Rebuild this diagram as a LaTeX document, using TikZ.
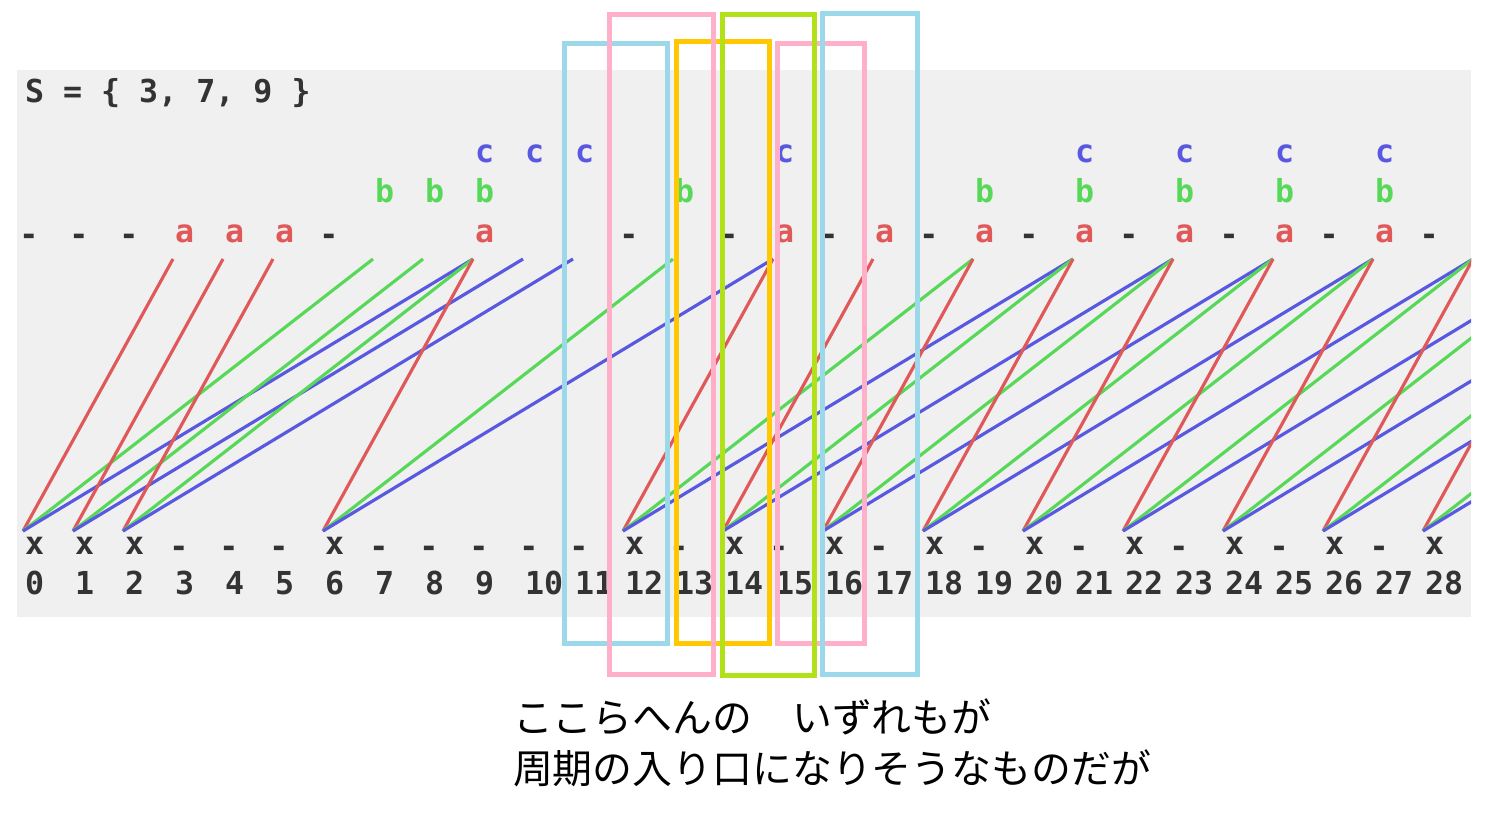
\documentclass[tikz,border=0pt]{standalone}
\usepackage{fontspec}
\newfontfamily\pixfont{DejaVu Sans Mono}
\newfontfamily\jpfont{Noto Sans CJK JP}
\definecolor{bggray}{HTML}{F0F0F0}
\definecolor{ink}{HTML}{333333}
\definecolor{reda}{HTML}{E05858}
\definecolor{greenb}{HTML}{58D858}
\definecolor{bluec}{HTML}{5858E0}
\definecolor{skyframe}{HTML}{9BD9EA}
\definecolor{pinkframe}{HTML}{FFAFC8}
\definecolor{goldframe}{HTML}{FFC800}
\definecolor{limeframe}{HTML}{B0E119}
\begin{document}
\begin{tikzpicture}[
        x=0.02cm, y=-0.02cm,
        every node/.style={inner sep=0pt, outer sep=0pt, text=ink, font=\pixfont\bfseries\fontsize{18}{18}\selectfont},
        numn/.style={anchor=base west},
        hitn/.style={anchor=base west},
        dashn/.style={anchor=center},
        an/.style={anchor=base west, text=reda},
        bn/.style={anchor=base west, text=greenb},
        cn/.style={anchor=base west, text=bluec},
        redl/.style={draw=reda, line width=1.8pt},
        greenl/.style={draw=greenb, line width=1.8pt},
        bluel/.style={draw=bluec, line width=1.8pt},
        skybox/.style={draw=skyframe, line width=2.8pt},
        pinkbox/.style={draw=pinkframe, line width=2.8pt},
        goldbox/.style={draw=goldframe, line width=2.8pt},
        limebox/.style={draw=limeframe, line width=2.8pt},
        jptext/.style={anchor=west, text=black, font=\jpfont\fontsize{22.7}{26}\selectfont},
    ]
    \useasboundingbox (0,0) rectangle (1493,819);
    \fill[bggray] (17,70) rectangle (1471,617);

    \node[anchor=base west] (title) at (25,102) {S = \{ 3, 7, 9 \}};

    \foreach \j in {0,...,37}
        \coordinate (top\j) at ({23+50*\j},259);

    \foreach \p in {0,1,2,6,12,14,16,18,20,22,24,26,28} {
        \coordinate (bot\p) at ({23+50*\p},531);
        \node[hitn] (x\p) at ({25+50*\p},554) {x};
        \node[dashn] (d\p) at ({29+50*\p},240) {-};
    }
    \foreach \q in {3,4,5,7,8,9,10,11,13,15,17,19,21,23,25,27}
        \node[dashn] (e\q) at ({29+50*\q},552) {-};

    \foreach \k in {3,4,5,9,15,17,19,21,23,25,27}
        \node[an] (a\k) at ({25+50*\k},242) {a};
    \foreach \k in {7,8,9,13,19,21,23,25,27}
        \node[bn] (b\k) at ({25+50*\k},202) {b};
    \foreach \k in {9,10,11,15,21,23,25,27}
        \node[cn] (c\k) at ({25+50*\k},162) {c};

    \foreach \n in {0,...,28}
        \node[numn] (n\n) at ({25+50*\n},594) {\n};

    \begin{scope}
        \clip (17,70) rectangle (1471,617);
        \foreach \p in {0,1,2,6,12,14,16,18,20,22,24,26,28} {
            \pgfmathtruncatemacro{\pa}{\p+3}
            \pgfmathtruncatemacro{\pb}{\p+7}
            \pgfmathtruncatemacro{\pc}{\p+9}
            \draw[redl] (bot\p) -- (top\pa);
            \draw[greenl] (bot\p) -- (top\pb);
            \draw[bluel] (bot\p) -- (top\pc);
        }
    \end{scope}

    \draw[skybox] (564.5,43.5) rectangle (667.5,643.5);
    \draw[goldbox] (676.5,41.5) rectangle (769.5,643.5);
    \draw[pinkbox] (777.5,43.5) rectangle (864.5,643.5);
    \draw[pinkbox] (609.5,14.5) rectangle (713.5,674.5);
    \draw[limebox] (722.5,14.5) rectangle (814.5,675.5);
    \draw[skybox] (822.5,13.5) rectangle (917.5,674.5);

    \node[jptext] (note1) at (513,717) {ここらへんの　いずれもが};
    \node[jptext] (note2) at (513,768) {周期の入り口になりそうなものだが};
\end{tikzpicture}
\end{document}
